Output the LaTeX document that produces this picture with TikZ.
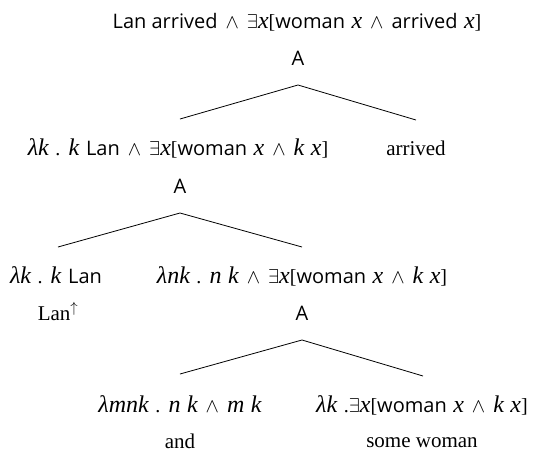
\RequirePackage{fix-cm}
\documentclass[tikz,border=0pt]{standalone}
\usepackage{fontspec}
\setmainfont{Liberation Serif}
\setsansfont{Open Sans}
\newfontfamily\semfont{Liberation Serif}[WordSpace = 1.3]
\usetikzlibrary{positioning}
\newcommand{\vb}[1]{{\fontsize{24}{24}\selectfont\itshape #1}}
\newcommand{\cn}[1]{\textsf{#1}}
\newcommand{\la}{\kern1.5pt$\wedge$\kern1.5pt}
\newcommand{\ex}{$\exists$}

\begin{document}
\begin{tikzpicture}[x = 1pt, y = -1pt,
    sem/.style = {inner sep = 0pt, anchor = base, font = \fontsize{20}{24}\semfont},
    cat/.style = {inner sep = 0pt, anchor = base, font = \fontsize{20}{24}\selectfont\sffamily},
    word/.style = {inner sep = 0pt, anchor = base, font = \fontsize{21}{25}\selectfont},
    branch/.style = {line width = .8pt}]
  \useasboundingbox (0,0) rectangle (542,453);
  \node (root) at (297,28) [sem] {\cn{Lan arrived} \la{} \ex\vb{x}[\cn{woman} \vb{x} \la{} \cn{arrived} \vb{x}]};
  \node (a1)   at (298,65) [cat] {A};
  \coordinate (t1)  at (298,85);
  \coordinate (t1l) at (180,119);
  \coordinate (t1r) at (416,120);
  \node (subj) at (178,155) [sem] {\vb{λk} . \vb{k} \cn{Lan} \la{} \ex\vb{x}[\cn{woman} \vb{x} \la{} \vb{k} \vb{x}]};
  \node (arr)  at (416,155) [word] {arrived};
  \node (a2)   at (180,193) [cat] {A};
  \coordinate (t2)  at (180,213);
  \coordinate (t2l) at (58,247);
  \coordinate (t2r) at (302,247);
  \node (lan)    at (56,283) [sem] {\vb{λk} . \vb{k} \cn{Lan}};
    \node (lanup) at (58,320) [word] {Lan$^{\uparrow}$};
  \node (coord)  at (302,283) [sem] {\vb{λnk} . \vb{n} \vb{k} \la{} \ex\vb{x}[\cn{woman} \vb{x} \la{} \vb{k} \vb{x}]};
  \node (a3)     at (302,320) [cat] {A};
  \coordinate (t3)  at (302,340);
  \coordinate (t3l) at (180,374);
  \coordinate (t3r) at (423,376);
  \node (conj)  at (180,412) [sem] {\vb{λmnk} . \vb{n} \vb{k} \la{} \vb{m} \vb{k}};
    \node (and) at (180,448) [word] {and};
  \node (some)  at (422,412) [sem] {\vb{λk} .\ex\vb{x}[\cn{woman} \vb{x} \la{} \vb{k} \vb{x}]};
    \node (sw)  at (422,447) [word] {some woman};
  \draw [branch] (t1l) -- (t1) -- (t1r);
  \draw [branch] (t2l) -- (t2) -- (t2r);
  \draw [branch] (t3l) -- (t3) -- (t3r);
\end{tikzpicture}
\end{document}
